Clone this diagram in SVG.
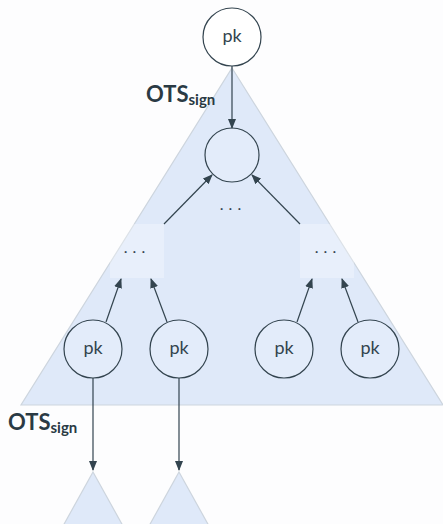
<svg xmlns="http://www.w3.org/2000/svg" width="443" height="524" viewBox="0 0 443 524">
<defs>
<style>
.tri{fill:#dfe9f9;stroke:#cdd5de;stroke-width:1.2}
.box{fill:#ffffff;fill-opacity:0.3;stroke:none}
.c{fill:#ffffff;fill-opacity:0.15;stroke:#33444f;stroke-width:1.2}
.ctop{fill:#ffffff;stroke:#33444f;stroke-width:1.2}
.pk{font-family:Lato,"Open Sans",sans-serif;font-size:18px;fill:#33444f;text-anchor:middle}
.dots{font-family:Lato,sans-serif;font-size:16px;fill:#33444f;text-anchor:middle;letter-spacing:5px}
.lbl{font-family:Lato,sans-serif;font-weight:bold;font-size:22px;fill:#2a3a44}
.sub{font-size:15px}
.e{stroke:#33444f;stroke-width:1.2;fill:none;marker-end:url(#ah)}
</style>
<marker id="ah" markerWidth="10" markerHeight="8" refX="9" refY="4" orient="auto" markerUnits="userSpaceOnUse">
<path d="M0,0 L10,4 L0,8 Z" fill="#33444f"/>
</marker>
</defs>
<rect width="443" height="524" fill="#fdfdfe"/>
<g id="tree"><polygon class="tri" points="232,68 443,405 21,405"/></g>
<g id="sub1"><polygon class="tri" points="93,472 123,526 63,526"/></g>
<g id="sub2"><polygon class="tri" points="179,472 209,526 149,526"/></g>
<g id="boxL"><rect class="box" x="110" y="224" width="54" height="54"/><text class="dots" x="137" y="253">...</text></g>
<g id="boxR"><rect class="box" x="300" y="224" width="54" height="54"/><text class="dots" x="328" y="253">...</text></g>
<g id="midDots"><text class="dots" x="233" y="210">...</text></g>
<g id="pkTop"><circle class="ctop" cx="232" cy="37" r="29"/><text class="pk" x="232" y="42">pk</text></g>
<g id="root"><circle class="c" cx="232" cy="155" r="27"/></g>
<g id="pk1"><circle class="c" cx="93" cy="349" r="29"/><text class="pk" x="93" y="354">pk</text></g>
<g id="pk2"><circle class="c" cx="179" cy="349" r="29"/><text class="pk" x="179" y="354">pk</text></g>
<g id="pk3"><circle class="c" cx="284" cy="349" r="29"/><text class="pk" x="284" y="354">pk</text></g>
<g id="pk4"><circle class="c" cx="370" cy="349" r="29"/><text class="pk" x="370" y="354">pk</text></g>
<g id="labels">
<text class="lbl" x="146" y="102">OTS<tspan class="sub" dy="3">sign</tspan></text>
<text class="lbl" x="8" y="430">OTS<tspan class="sub" dy="3">sign</tspan></text>
</g>
<g id="connectors">
<line class="e" x1="232" y1="66" x2="232" y2="128"/>
<line class="e" x1="164" y1="224" x2="212" y2="175"/>
<line class="e" x1="300" y1="224" x2="252" y2="175"/>
<line class="e" x1="106" y1="322" x2="121" y2="279"/>
<line class="e" x1="167" y1="322" x2="151" y2="279"/>
<line class="e" x1="297" y1="322" x2="312" y2="279"/>
<line class="e" x1="358" y1="322" x2="342" y2="279"/>
<line class="e" x1="93" y1="378" x2="93" y2="470"/>
<line class="e" x1="179" y1="378" x2="179" y2="470"/>
</g>
</svg>
